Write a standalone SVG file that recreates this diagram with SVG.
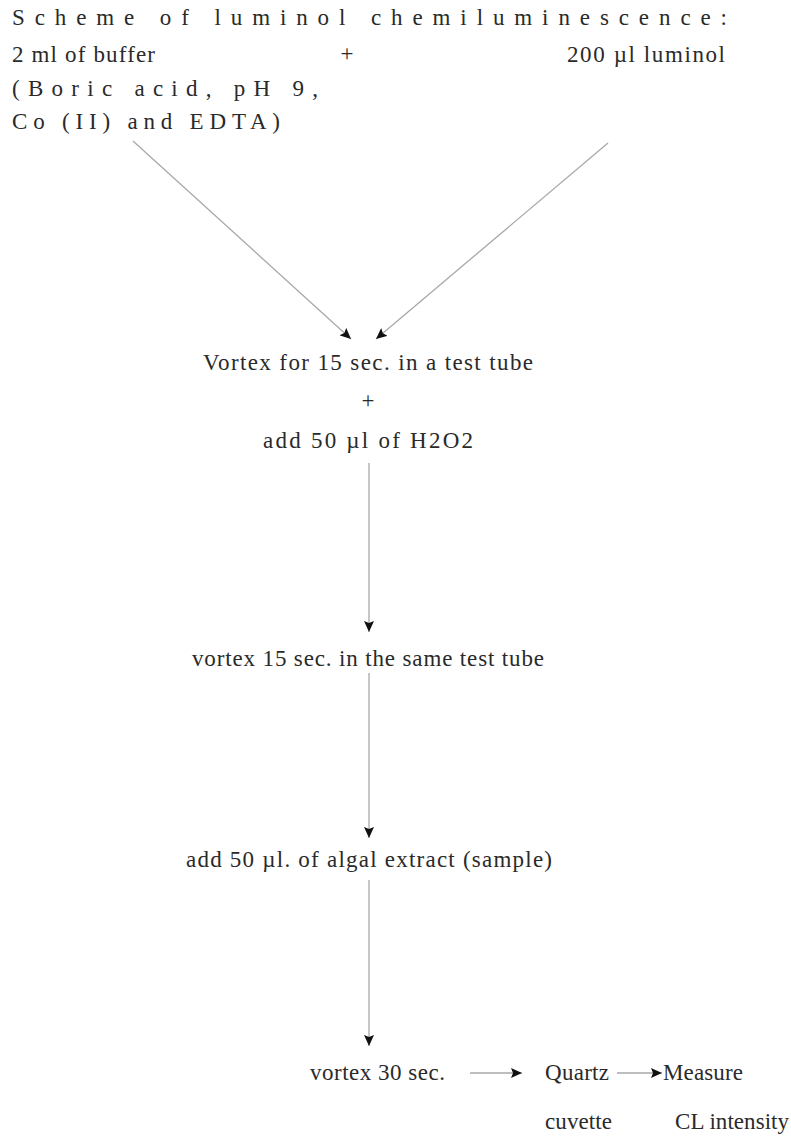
<svg xmlns="http://www.w3.org/2000/svg" width="791" height="1136" viewBox="0 0 791 1136">
<style>
text{font-family:"Liberation Serif","Times New Roman",serif;font-size:23px;fill:#2a2a2a}
.c{text-anchor:middle}
.ln{stroke:#a8a8a8;stroke-width:1.3;fill:none;marker-end:url(#ah)}
</style>
<defs>
<marker id="ah" markerUnits="userSpaceOnUse" markerWidth="12" markerHeight="10" refX="11" refY="5" orient="auto">
<path d="M0,0 L11,5 L0,10 L2,5 Z" fill="#111"/>
</marker>
</defs>
<rect width="791" height="1136" fill="#fff"/>
<g id="title"><text x="12" y="25" textLength="715" lengthAdjust="spacing">Scheme of luminol chemiluminescence:</text></g>
<g id="buffer">
<text x="12" y="62" textLength="143" lengthAdjust="spacing">2 ml of buffer</text>
<text x="12" y="96" textLength="306" lengthAdjust="spacing">(Boric acid, pH 9,</text>
<text x="12" y="129" textLength="268" lengthAdjust="spacing">Co (II) and EDTA)</text>
</g>
<g id="plus1"><text x="347" y="61" class="c">+</text></g>
<g id="luminol"><text x="567" y="62" textLength="158" lengthAdjust="spacing">200  µl luminol</text></g>
<g id="step1">
<text x="368" y="370" class="c" textLength="330" lengthAdjust="spacing">Vortex for 15 sec. in a test tube</text>
<text x="368" y="408" class="c">+</text>
<text x="368" y="448" class="c" textLength="210" lengthAdjust="spacing">add 50 µl of H2O2</text>
</g>
<g id="step2"><text x="368" y="666" class="c" textLength="352" lengthAdjust="spacing">vortex 15 sec. in the same test tube</text></g>
<g id="step3"><text x="369" y="867" class="c" textLength="366" lengthAdjust="spacing">add  50  µl. of algal extract (sample)</text></g>
<g id="step4"><text x="310" y="1080" textLength="135" lengthAdjust="spacing">vortex 30 sec.</text></g>
<g id="cuvette">
<text x="545" y="1080" textLength="64" lengthAdjust="spacing">Quartz</text>
<text x="545" y="1129" textLength="67" lengthAdjust="spacing">cuvette</text>
</g>
<g id="measure">
<text x="663" y="1080" textLength="80" lengthAdjust="spacing">Measure</text>
<text x="675" y="1129" textLength="114" lengthAdjust="spacing">CL intensity</text>
</g>
<g id="connectors">
<line class="ln" x1="133" y1="141" x2="351" y2="339"/>
<line class="ln" x1="608" y1="143" x2="376" y2="339"/>
<line class="ln" x1="369" y1="463" x2="369" y2="632"/>
<line class="ln" x1="369" y1="673" x2="369" y2="838"/>
<line class="ln" x1="369" y1="880" x2="369" y2="1046"/>
<line class="ln" x1="470" y1="1073" x2="522" y2="1073"/>
<line class="ln" x1="617" y1="1073" x2="662" y2="1073"/>
</g>
</svg>
